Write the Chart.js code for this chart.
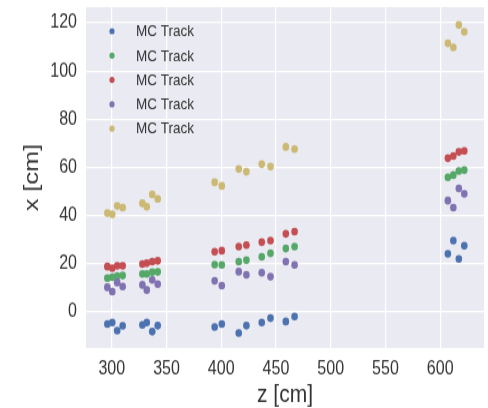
<!DOCTYPE html>
<html>
<head>
<meta charset="utf-8">
<script src="https://cdn.jsdelivr.net/npm/chart.js@4/dist/chart.umd.min.js"></script>
<style>
  html, body { margin: 0; padding: 0; background: #fff; }
</style>
</head>
<body>
<!-- the reference picture is stretched ~1.2x vertically, so draw at 340 high and show at 408 -->
<canvas id="scatter" width="488" height="340" style="display:block;width:488px;height:408px"></canvas>
<script>
const TRACK_LABEL = 'MC Track'
const Z_CM = [296, 300.5, 305, 310, 328, 332, 337, 342, 394, 400.5, 416, 423, 437, 445, 459, 467, 607, 612, 617, 622]
const X_BLUE = [-5.0, -4.4, -7.8, -5.8, -5.4, -4.4, -8.2, -5.7, -6.3, -5.0, -8.8, -5.7, -4.4, -2.6, -4.0, -1.9, 24.1, 29.6, 22.0, 27.5]
const X_GREEN = [14.0, 14.4, 14.9, 15.1, 15.8, 15.8, 16.5, 16.6, 19.6, 19.5, 20.9, 21.5, 22.9, 24.3, 26.3, 27.1, 55.9, 56.8, 58.5, 58.9]
const X_RED = [18.8, 18.1, 19.1, 19.1, 19.9, 20.2, 20.9, 21.2, 25.0, 25.4, 27.1, 27.7, 29.0, 29.6, 32.4, 33.3, 63.8, 64.7, 66.4, 66.8]
const X_PURPLE = [10.2, 8.4, 12.2, 10.5, 11.2, 9.1, 13.3, 11.5, 12.9, 10.9, 16.7, 15.4, 16.3, 14.6, 20.9, 19.5, 46.2, 43.3, 51.3, 49.0]
const X_YELLOW = [41.0, 40.5, 44.0, 43.3, 45.1, 43.7, 48.8, 46.9, 53.8, 52.3, 59.3, 58.2, 61.3, 60.3, 68.5, 67.6, 111.5, 109.8, 119.1, 116.3]
const Z_TICKS = [300, 350, 400, 450, 500, 550, 600]
const X_TICKS = [0, 20, 40, 60, 80, 100, 120]

const SERIES = [X_BLUE, X_GREEN, X_RED, X_PURPLE, X_YELLOW]
const COLORS = ['#4C72B0', '#55A868', '#C44E52', '#8172B2', '#CCB974']
const FONT = '"Liberation Sans", Arial, sans-serif'
const TEXT = '#333333'

const SCATTER = document.getElementById('scatter')

// seaborn style grey panel behind the grid
const panelBackground = {
    id: 'panelBackground',
    beforeDraw(chart) {
        const {ctx, chartArea} = chart
        ctx.save()
        ctx.fillStyle = '#EAEAF2'
        ctx.fillRect(chartArea.left, chartArea.top, chartArea.right - chartArea.left, chartArea.bottom - chartArea.top)
        ctx.restore()
    }
}

// legend sits inside the axes, top left, like matplotlib's loc='upper left'
const insideLegend = {
    id: 'insideLegend',
    afterDatasetsDraw(chart) {
        const {ctx, chartArea} = chart
        ctx.save()
        ctx.font = '13.5px ' + FONT
        ctx.textBaseline = 'middle'
        ctx.textAlign = 'left'
        chart.data.datasets.forEach((ds, i) => {
            const y = chartArea.top + 20 + i * 20.3
            ctx.beginPath()
            ctx.fillStyle = ds.backgroundColor
            ctx.arc(chartArea.left + 26, y, 2.6, 0, Math.PI * 2)
            ctx.fill()
            ctx.fillStyle = TEXT
            ctx.fillText(ds.label, chartArea.left + 50, y + 0.5)
        })
        ctx.restore()
    }
}

// no extra room for half-labels at the ends, the panel runs to the edges
function noEdgePadding(scale) {
    scale.paddingTop = 0
    scale.paddingBottom = 0
    scale.paddingLeft = 0
    scale.paddingRight = 0
}

if (SCATTER !== null) {
    loadGraph()
}

function loadGraph() {
    const datasets = SERIES.map((values, i) => ({
        label: TRACK_LABEL,
        data: Z_CM.map((z, j) => ({x: z, y: values[j]})),
        backgroundColor: COLORS[i],
        borderColor: COLORS[i],
        borderWidth: 0,
        pointRadius: 3.3,
        order: SERIES.length - i
    }))

    new Chart(SCATTER, {
        type: 'scatter',
        data: {datasets: datasets},
        plugins: [panelBackground, insideLegend],
        options: {
            responsive: false,
            animation: false,
            devicePixelRatio: 1,
            layout: {padding: {left: 22, top: 6, right: 0, bottom: 0}},
            plugins: {
                legend: {display: false},
                tooltip: {enabled: false}
            },
            scales: {
                x: {
                    type: 'linear',
                    min: 276.5,
                    max: 640,
                    afterBuildTicks: (scale) => { scale.ticks = Z_TICKS.map(v => ({value: v})) },
                    afterFit: (scale) => { scale.height = 50; noEdgePadding(scale) },
                    grid: {color: '#FFFFFF', lineWidth: 1.2, drawTicks: false},
                    border: {display: false},
                    ticks: {color: TEXT, font: {family: FONT, size: 16}, padding: 8, maxRotation: 0},
                    title: {display: true, text: 'z [cm]', color: TEXT, font: {family: FONT, size: 21, lineHeight: 1}, padding: 0}
                },
                y: {
                    type: 'linear',
                    min: -15,
                    max: 126.5,
                    afterBuildTicks: (scale) => { scale.ticks = X_TICKS.map(v => ({value: v})) },
                    afterFit: (scale) => { scale.width = 64; noEdgePadding(scale) },
                    grid: {color: '#FFFFFF', lineWidth: 1.2, drawTicks: false},
                    border: {display: false},
                    ticks: {color: TEXT, font: {family: FONT, size: 16}, padding: 9},
                    title: {display: true, text: 'x [cm]', color: TEXT, font: {family: FONT, size: 21, lineHeight: 1}, padding: 0}
                }
            }
        }
    })
}
</script>
</body>
</html>
